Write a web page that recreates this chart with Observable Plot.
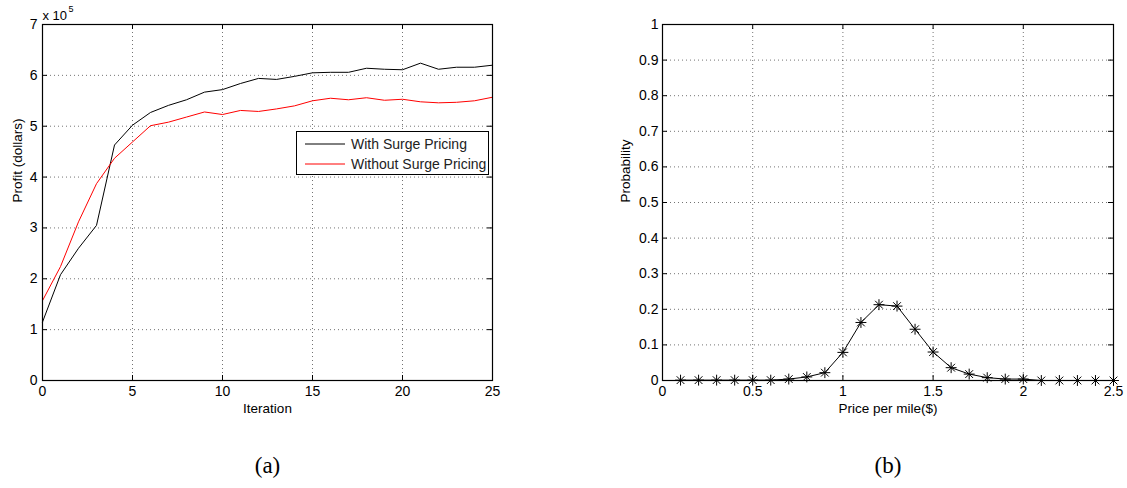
<!DOCTYPE html>
<html>
<head>
<meta charset="utf-8">
<script src="https://cdn.jsdelivr.net/npm/d3@7"></script>
<script src="https://cdn.jsdelivr.net/npm/@observablehq/plot@0.6"></script>
<style>
  html, body { margin: 0; padding: 0; background: #fff; }
  #wrap { position: relative; width: 1127px; height: 488px; display: flex; }
  #legend { position: absolute; left: 296px; top: 131px; width: 191px; height: 42px;
            border: 1px solid #000; background: #fff; font-family: "Liberation Sans", Arial, sans-serif; font-size: 14px; }
</style>
</head>
<body>
<div id="wrap"></div>
<script>
// ---- Data ----
const iterations = [0,1,2,3,4,5,6,7,8,9,10,11,12,13,14,15,16,17,18,19,20,21,22,23,24,25];
// Profit in units of 10^5 dollars
const profitWithSurge    = [1.15,2.08,2.60,3.05,4.63,5.02,5.27,5.41,5.52,5.67,5.72,5.84,5.94,5.92,5.98,6.05,6.06,6.06,6.14,6.12,6.11,6.24,6.12,6.16,6.16,6.20];
const profitWithoutSurge = [1.57,2.24,3.12,3.87,4.37,4.69,5.01,5.08,5.18,5.28,5.23,5.31,5.29,5.34,5.40,5.50,5.55,5.52,5.56,5.51,5.53,5.48,5.46,5.47,5.50,5.57];
const seriesNames = ["With Surge Pricing", "Without Surge Pricing"];
const seriesColors = ["#000000", "#ff0000"];

const prices = [0.1,0.2,0.3,0.4,0.5,0.6,0.7,0.8,0.9,1.0,1.1,1.2,1.3,1.4,1.5,1.6,1.7,1.8,1.9,2.0,2.1,2.2,2.3,2.4,2.5];
const probabilities = [0.001,0.001,0.001,0.001,0.001,0.001,0.004,0.010,0.022,0.079,0.163,0.213,0.209,0.144,0.080,0.036,0.018,0.008,0.004,0.004,0,0,0,0,0];

const xTicksA = [0,5,10,15,20,25];
const yTicksA = [0,1,2,3,4,5,6,7];
const xTicksB = [0,0.5,1,1.5,2,2.5];
const yTicksB = [0,0.1,0.2,0.3,0.4,0.5,0.6,0.7,0.8,0.9,1];

// ---- Helpers ----
const FONT = '"Liberation Sans", Arial, Helvetica, sans-serif';
const gridStyle = {stroke: "#000", strokeOpacity: 0.55, strokeDasharray: "1,3", strokeWidth: 1};

function frameMarks(xTicks, yTicks, xDom, yDom, plotW, plotH) {
  const xi = xTicks.filter(d => d > xDom[0] && d < xDom[1]);
  const yi = yTicks.filter(d => d > yDom[0] && d < yDom[1]);
  return [
    Plot.gridX(xi, gridStyle),
    Plot.gridY(yi, gridStyle),
    Plot.tickX(xi, {x: d => d, insetTop: plotH - 5, stroke: "#000"}),
    Plot.tickX(xi, {x: d => d, insetBottom: plotH - 5, stroke: "#000"}),
    Plot.tickY(yi, {y: d => d, insetRight: plotW - 5, stroke: "#000"}),
    Plot.tickY(yi, {y: d => d, insetLeft: plotW - 5, stroke: "#000"})
  ];
}

// ---- Left panel (a) ----
const tableA = [];
iterations.forEach((x, i) => {
  tableA.push({iter: x, profit: profitWithSurge[i], series: seriesNames[0]});
});
iterations.forEach((x, i) => {
  tableA.push({iter: x, profit: profitWithoutSurge[i], series: seriesNames[1]});
});

const WA = 563, HA = 488;
const mA = {left: 42, right: 71, top: 24, bottom: 108};
const plotWA = WA - mA.left - mA.right, plotHA = HA - mA.top - mA.bottom;

const chartA = Plot.plot({
  width: WA, height: HA,
  marginLeft: mA.left, marginRight: mA.right, marginTop: mA.top, marginBottom: mA.bottom,
  style: {fontFamily: FONT, fontSize: "14px", background: "#fff", color: "#000"},
  x: {domain: [0, 25]},
  y: {domain: [0, 7]},
  color: {domain: seriesNames, range: seriesColors},
  marks: [
    ...frameMarks(xTicksA, yTicksA, [0,25], [0,7], plotWA, plotHA),
    Plot.line(tableA, {x: "iter", y: "profit", z: "series", stroke: "series", strokeWidth: 1}),
    Plot.frame({stroke: "#000", strokeWidth: 1.2}),
    Plot.axisX(xTicksA, {tickSize: 0, tickPadding: 6, tickFormat: d => String(d), fontSize: 14, label: null}),
    Plot.axisY(yTicksA, {tickSize: 0, tickPadding: 5, tickFormat: d => String(d), fontSize: 14, label: null}),
    Plot.text(["Iteration"], {text: d => d, frameAnchor: "bottom", dy: 32, fontSize: 13.5}),
    Plot.text(["Profit (dollars)"], {text: d => d, frameAnchor: "left", dx: -25, rotate: -90, fontSize: 13.5}),
    Plot.text(["x 10"], {text: d => d, frameAnchor: "top-left", textAnchor: "start", lineAnchor: "bottom", dy: -5, fontSize: 13}),
    Plot.text(["5"], {text: d => d, frameAnchor: "top-left", textAnchor: "start", lineAnchor: "bottom", dx: 26, dy: -13, fontSize: 9}),
    Plot.text(["(a)"], {text: d => d, frameAnchor: "bottom", dy: 92, fontSize: 23, fontFamily: '"Liberation Serif", "Times New Roman", serif'})
  ]
});

// ---- Right panel (b) ----
const tableB = prices.map((p, i) => ({price: p, prob: probabilities[i]}));
const WB = 564, HB = 488;
const mB = {left: 99, right: 14, top: 24, bottom: 108};
const plotWB = WB - mB.left - mB.right, plotHB = HB - mB.top - mB.bottom;

const fmt1 = d => String(+d.toFixed(1));

const chartB = Plot.plot({
  width: WB, height: HB,
  marginLeft: mB.left, marginRight: mB.right, marginTop: mB.top, marginBottom: mB.bottom,
  style: {fontFamily: FONT, fontSize: "14px", background: "#fff", color: "#000"},
  x: {domain: [0, 2.5]},
  y: {domain: [0, 1]},
  marks: [
    ...frameMarks(xTicksB, yTicksB, [0,2.5], [0,1], plotWB, plotHB),
    Plot.line(tableB, {x: "price", y: "prob", stroke: "#000", strokeWidth: 1}),
    Plot.dot(tableB, {x: "price", y: "prob", symbol: "plus", r: 3.6, stroke: "#000", strokeWidth: 1}),
    Plot.dot(tableB, {x: "price", y: "prob", symbol: "times", r: 3.6, stroke: "#000", strokeWidth: 1}),
    Plot.frame({stroke: "#000", strokeWidth: 1.2}),
    Plot.axisX(xTicksB, {tickSize: 0, tickPadding: 6, tickFormat: fmt1, fontSize: 14, label: null}),
    Plot.axisY(yTicksB, {tickSize: 0, tickPadding: 4, tickFormat: fmt1, fontSize: 14, label: null}),
    Plot.text(["Price per mile($)"], {text: d => d, frameAnchor: "bottom", dy: 32, fontSize: 13.5}),
    Plot.text(["Probability"], {text: d => d, frameAnchor: "left", dx: -37, rotate: -90, fontSize: 13.5}),
    Plot.text(["(b)"], {text: d => d, frameAnchor: "bottom", dy: 92, fontSize: 23, fontFamily: '"Liberation Serif", "Times New Roman", serif'})
  ]
});

const wrap = document.getElementById("wrap");
wrap.appendChild(chartA);
wrap.appendChild(chartB);

// ---- Legend for panel (a) ----
const legend = document.createElement("div");
legend.id = "legend";
const ns = "http://www.w3.org/2000/svg";
const lsvg = document.createElementNS(ns, "svg");
lsvg.setAttribute("width", 191);
lsvg.setAttribute("height", 42);
seriesNames.forEach((name, i) => {
  const y = 12 + i * 20;
  const ln = document.createElementNS(ns, "line");
  ln.setAttribute("x1", 8); ln.setAttribute("x2", 48);
  ln.setAttribute("y1", y); ln.setAttribute("y2", y);
  ln.setAttribute("stroke", seriesColors[i]);
  ln.setAttribute("stroke-width", 1);
  lsvg.appendChild(ln);
  const tx = document.createElementNS(ns, "text");
  tx.setAttribute("x", 54); tx.setAttribute("y", y + 5);
  tx.setAttribute("font-family", FONT);
  tx.setAttribute("font-size", 14);
  tx.setAttribute("fill", "#222");
  tx.textContent = name;
  lsvg.appendChild(tx);
});
legend.appendChild(lsvg);
wrap.appendChild(legend);
</script>
</body>
</html>
